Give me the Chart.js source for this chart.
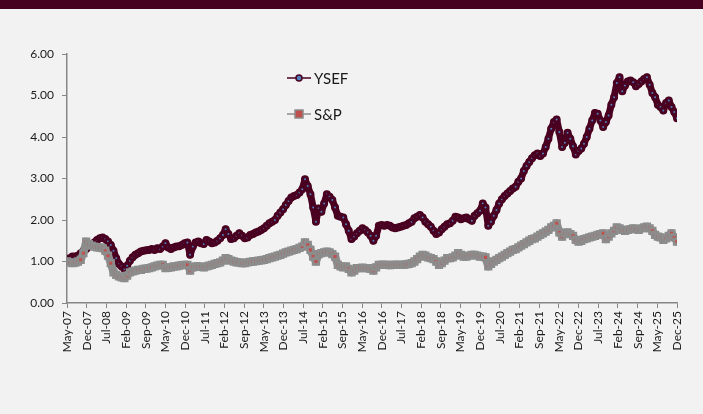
<!DOCTYPE html>
<html>
<head>
<meta charset="utf-8">
<script src="https://cdn.jsdelivr.net/npm/chart.js@4.4.1/dist/chart.umd.min.js"></script>
<style>
  html, body { margin: 0; padding: 0; background: #f2f2f2; }
  #wrap { position: relative; width: 703px; height: 414px; }
  #band { position: absolute; left: 0; top: 0; width: 703px; height: 9px; background: #460020; }
</style>
</head>
<body>
<div id="wrap">
  <canvas id="perfChart" width="703" height="414"></canvas>
  <div id="band"></div>
</div>
<script>
// monthly values, May-07 .. Dec-25
const ysef = [
  1.00, 1.08, 1.12, 1.12, 1.14, 1.20, 1.26, 1.30,
  1.36, 1.42, 1.46, 1.52, 1.56, 1.58, 1.54, 1.48, 1.40, 1.26, 1.08, 0.94,
  0.88, 0.82, 0.90, 1.02, 1.10, 1.16, 1.20, 1.24, 1.26, 1.27, 1.28, 1.30,
  1.28, 1.32, 1.30, 1.36, 1.44, 1.34, 1.30, 1.34, 1.36, 1.37, 1.40, 1.44,
  1.46, 1.16, 1.36, 1.46, 1.48, 1.44, 1.42, 1.52, 1.48, 1.44, 1.46, 1.50,
  1.56, 1.64, 1.78, 1.66, 1.54, 1.56, 1.62, 1.68, 1.62, 1.56, 1.58, 1.64,
  1.66, 1.70, 1.72, 1.76, 1.80, 1.86, 1.92, 1.96, 2.00, 2.10, 2.18, 2.26,
  2.36, 2.46, 2.54, 2.58, 2.60, 2.66, 2.74, 2.98, 2.82, 2.62, 2.30, 1.96,
  2.28, 2.20, 2.40, 2.62, 2.56, 2.48, 2.30, 2.10, 2.08, 2.06, 1.90, 1.74,
  1.54, 1.60, 1.68, 1.74, 1.80, 1.76, 1.70, 1.62, 1.50, 1.62, 1.86, 1.88,
  1.86, 1.88, 1.86, 1.82, 1.80, 1.82, 1.84, 1.86, 1.88, 1.92, 1.96, 2.04,
  2.08, 2.12, 2.06, 1.96, 1.90, 1.84, 1.74, 1.66, 1.70, 1.78, 1.84, 1.90,
  1.92, 1.98, 2.08, 2.06, 2.02, 2.04, 2.06, 2.02, 1.98, 2.10, 2.16, 2.22,
  2.40, 2.30, 1.86, 1.96, 2.10, 2.24, 2.40, 2.50, 2.58, 2.64, 2.70, 2.76,
  2.80, 2.92, 3.00, 3.18, 3.30, 3.40, 3.49, 3.56, 3.60, 3.54, 3.60, 3.76,
  3.96, 4.20, 4.36, 4.42, 4.12, 3.76, 3.86, 4.10, 3.96, 3.78, 3.58, 3.66,
  3.72, 3.84, 4.00, 4.20, 4.40, 4.58, 4.56, 4.40, 4.24, 4.36, 4.52, 4.78,
  4.96, 5.30, 5.44, 5.10, 5.24, 5.34, 5.36, 5.32, 5.22, 5.28, 5.34, 5.40,
  5.44, 5.26, 5.06, 4.96, 4.78, 4.72, 4.64, 4.82, 4.88, 4.72, 4.60, 4.45
];

const sp = [
  1.00, 0.98, 0.96, 0.97, 1.00, 1.04, 1.20, 1.48,
  1.42, 1.38, 1.36, 1.34, 1.34, 1.32, 1.26, 1.14, 0.96, 0.74, 0.68, 0.64,
  0.62, 0.60, 0.66, 0.74, 0.76, 0.78, 0.80, 0.80, 0.82, 0.83, 0.84, 0.86,
  0.88, 0.90, 0.92, 0.92, 0.84, 0.85, 0.86, 0.88, 0.88, 0.90, 0.91, 0.92,
  0.92, 0.78, 0.86, 0.88, 0.88, 0.87, 0.86, 0.88, 0.90, 0.92, 0.94, 0.96,
  0.98, 1.02, 1.08, 1.06, 1.02, 1.00, 0.98, 0.98, 0.96, 0.96, 0.98, 0.99,
  1.00, 1.01, 1.02, 1.03, 1.04, 1.06, 1.08, 1.10, 1.12, 1.14, 1.16, 1.19,
  1.22, 1.24, 1.26, 1.28, 1.30, 1.33, 1.36, 1.46, 1.40, 1.28, 1.12, 1.00,
  1.18, 1.20, 1.22, 1.24, 1.22, 1.18, 1.12, 0.92, 0.88, 0.86, 0.88, 0.82,
  0.74, 0.78, 0.84, 0.84, 0.85, 0.84, 0.84, 0.82, 0.78, 0.86, 0.92, 0.92,
  0.92, 0.92, 0.91, 0.92, 0.92, 0.92, 0.92, 0.92, 0.93, 0.94, 0.96, 1.00,
  1.06, 1.12, 1.16, 1.14, 1.10, 1.08, 1.06, 1.00, 0.92, 0.96, 1.02, 1.08,
  1.08, 1.10, 1.14, 1.20, 1.16, 1.12, 1.12, 1.14, 1.16, 1.16, 1.14, 1.12,
  1.12, 1.10, 0.88, 0.94, 1.00, 1.04, 1.08, 1.12, 1.16, 1.20, 1.24, 1.28,
  1.30, 1.34, 1.38, 1.42, 1.46, 1.50, 1.54, 1.56, 1.60, 1.64, 1.68, 1.72,
  1.76, 1.82, 1.86, 1.92, 1.70, 1.60, 1.68, 1.70, 1.66, 1.62, 1.52, 1.48,
  1.50, 1.54, 1.56, 1.58, 1.60, 1.62, 1.64, 1.66, 1.68, 1.54, 1.60, 1.68,
  1.74, 1.82, 1.80, 1.76, 1.74, 1.76, 1.78, 1.80, 1.78, 1.76, 1.80, 1.82,
  1.84, 1.80, 1.74, 1.64, 1.60, 1.58, 1.52, 1.56, 1.62, 1.68, 1.58, 1.48
];

const tickLabels = [
  "May-07", "Dec-07", "Jul-08", "Feb-09", "Sep-09", "May-10", "Dec-10", "Jul-11",
  "Feb-12", "Sep-12", "May-13", "Dec-13", "Jul-14", "Feb-15", "Sep-15", "May-16",
  "Dec-16", "Jul-17", "Feb-18", "Sep-18", "May-19", "Dec-19", "Jul-20", "Feb-21",
  "Sep-21", "May-22", "Dec-22", "Jul-23", "Feb-24", "Sep-24", "May-25", "Dec-25"
];

const seriesNames = ["YSEF", "S&P"];
const yTicks = [0, 1, 2, 3, 4, 5, 6];

const FONT = "Lato, 'Open Sans', sans-serif";
const lastIdx = ysef.length - 1;

// legend sits inside the plot in the original, so draw it by hand
const insideLegend = {
    id: "insideLegend",
    afterDraw(chart) {
        const ctx = chart.ctx;
        const spots = [78, 114];
        chart.data.datasets.forEach((ds, i) => {
            const y = spots[i];
            ctx.save();
            ctx.strokeStyle = ds.borderColor;
            ctx.lineWidth = 1.5;
            ctx.beginPath();
            ctx.moveTo(287, y);
            ctx.lineTo(311, y);
            ctx.stroke();
            ctx.fillStyle = ds.pointBackgroundColor;
            ctx.strokeStyle = ds.pointBorderColor;
            ctx.lineWidth = 1.5;
            if (ds.pointStyle === "rect") {
                ctx.fillRect(295, y - 4, 8, 8);
                ctx.strokeRect(295, y - 4, 8, 8);
            } else {
                ctx.beginPath();
                ctx.arc(299, y, 3, 0, Math.PI * 2);
                ctx.fill();
                ctx.stroke();
            }
            ctx.fillStyle = "#1a1a1a";
            ctx.font = "15px " + FONT;
            ctx.textBaseline = "middle";
            ctx.fillText(ds.label, 314, y + 1);
            ctx.restore();
        });
    }
};

const ctx = document.getElementById("perfChart").getContext("2d");

const perfChart = new Chart(ctx, {
    type: "line",
    data: {
        datasets: [
            {
                label: seriesNames[0],
                data: ysef.map((v, i) => ({ x: i, y: v })),
                borderColor: "#4a0020",
                borderWidth: 7,
                borderJoinStyle: "round",
                borderCapStyle: "round",
                pointStyle: "circle",
                pointRadius: 2.5,
                pointBorderWidth: 3,
                pointBackgroundColor: "#4f81bd",
                pointBorderColor: "#4a0020",
                tension: 0,
                order: 1
            },
            {
                label: seriesNames[1],
                data: sp.map((v, i) => ({ x: i, y: v })),
                borderColor: "#8c8c8c",
                borderWidth: 8,
                borderJoinStyle: "round",
                borderCapStyle: "round",
                pointStyle: "rect",
                pointRadius: 4,
                pointBorderWidth: 2.6,
                pointBackgroundColor: "#c0504d",
                pointBorderColor: "#8c8c8c",
                tension: 0,
                order: 0
            }
        ]
    },
    options: {
        responsive: false,
        animation: false,
        layout: { padding: { left: 0, right: 26, top: 54, bottom: 41 } },
        plugins: {
            legend: { display: false },
            tooltip: { enabled: false }
        },
        scales: {
            x: {
                type: "linear",
                min: 0,
                max: lastIdx,
                afterBuildTicks: axis => {
                    axis.ticks = tickLabels.map((t, k) => ({ value: k * lastIdx / (tickLabels.length - 1) }));
                },
                afterFit: axis => { axis.height = 70; },
                grid: { drawOnChartArea: false, drawTicks: true, tickLength: 5, color: "#868686" },
                border: { color: "#868686", width: 1.5 },
                ticks: {
                    autoSkip: false,
                    minRotation: 90,
                    maxRotation: 90,
                    padding: 3,
                    color: "#1a1a1a",
                    font: { family: FONT, size: 12 },
                    callback: (val, idx) => tickLabels[idx]
                }
            },
            y: {
                min: 0,
                max: 6,
                afterBuildTicks: axis => {
                    axis.ticks = yTicks.map(v => ({ value: v }));
                },
                afterFit: axis => { axis.width = 67; },
                grid: { drawOnChartArea: false, drawTicks: true, tickLength: 5, color: "#868686" },
                border: { color: "#868686", width: 1.5 },
                ticks: {
                    padding: 8,
                    color: "#1a1a1a",
                    font: { family: FONT, size: 12 },
                    callback: v => v.toFixed(2)
                }
            }
        }
    },
    plugins: [insideLegend]
});
</script>
</body>
</html>
